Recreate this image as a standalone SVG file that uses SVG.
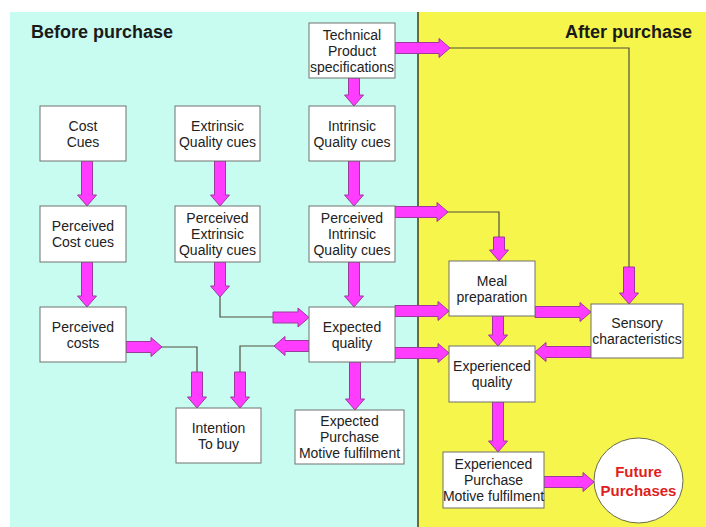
<svg xmlns="http://www.w3.org/2000/svg" width="706" height="527" viewBox="0 0 706 527">
  <style>
    .box { fill: #ffffff; stroke: #707070; stroke-width: 1; }
    .lbl { font-family: "Liberation Sans", Arial, sans-serif; font-size: 14px; fill: #222222; text-anchor: middle; }
    .title { font-family: "Liberation Sans", Arial, sans-serif; font-size: 18px; font-weight: bold; fill: #1a1a1a; }
    .blk { fill: #ff3cff; stroke: #9a3a9a; stroke-width: 1; stroke-linejoin: miter; }
    .wire { fill: none; stroke: #505040; stroke-width: 1.2; }
    .future { font-family: "Liberation Sans", Arial, sans-serif; font-size: 15px; font-weight: bold; fill: #e01e1e; text-anchor: middle; }
  </style>

  <!-- background panels -->
  <rect x="0" y="0" width="706" height="527" fill="#ffffff"/>
  <rect x="10" y="12" width="408" height="515" fill="#c8fcf0"/>
  <rect x="418" y="12" width="288" height="515" fill="#f5f54b"/>
  <line x1="418" y1="12" x2="418" y2="527" stroke="#3c3c28" stroke-width="1.5"/>

  <text class="title" x="31" y="38">Before purchase</text>
  <text class="title" x="692" y="38" text-anchor="end">After purchase</text>

  <!-- connectors: block arrows and thin routing lines -->
  <g id="connectors">
    <!-- thin routing lines -->
    <path class="wire" d="M448 48 H629 V268"/>
    <path class="wire" d="M220 296 V317 H274"/>
    <path class="wire" d="M446 212 H499 V238"/>
    <path class="wire" d="M161 347 H197 V373"/>
    <path class="wire" d="M275 346 H240 V373"/>

    <!-- Technical -> Intrinsic -->
    <path class="blk" d="M348.5 78 V95 H344.5 L354 106 L363.5 95 H359.5 V78 Z"/>
    <!-- Technical -> right -->
    <path class="blk" d="M395 42.5 H439 V38.5 L450 48 L439 57.5 V53.5 H395 Z"/>
    <!-- down into Sensory -->
    <path class="blk" d="M623.5 267 V293 H619.5 L629 304 L638.5 293 H634.5 V267 Z"/>
    <!-- Cost cues -> Perceived cost cues -->
    <path class="blk" d="M81.5 161 V195 H77.5 L87 206 L96.5 195 H92.5 V161 Z"/>
    <!-- Extrinsic -> Perceived extrinsic -->
    <path class="blk" d="M214.5 161 V195 H210.5 L220 206 L229.5 195 H225.5 V161 Z"/>
    <!-- Intrinsic -> Perceived intrinsic -->
    <path class="blk" d="M348.5 161 V195 H344.5 L354 206 L363.5 195 H359.5 V161 Z"/>
    <!-- Perceived cost cues -> Perceived costs -->
    <path class="blk" d="M81.5 262 V296 H77.5 L87 307 L96.5 296 H92.5 V262 Z"/>
    <!-- Perceived extrinsic down -->
    <path class="blk" d="M214.5 262 V286 H210.5 L220 297 L229.5 286 H225.5 V262 Z"/>
    <!-- into Expected quality from left -->
    <path class="blk" d="M273 312 H298 V308 L309 317.5 L298 327 V323 H273 Z"/>
    <!-- Perceived intrinsic -> Expected quality -->
    <path class="blk" d="M348.5 262 V296 H344.5 L354 307 L363.5 296 H359.5 V262 Z"/>
    <!-- Perceived intrinsic -> right -->
    <path class="blk" d="M395 206.5 H437 V202.5 L448 212 L437 221.5 V217.5 H395 Z"/>
    <!-- down into Meal preparation -->
    <path class="blk" d="M493.5 237 V250 H489.5 L499 261 L508.5 250 H504.5 V237 Z"/>
    <!-- Perceived costs -> right -->
    <path class="blk" d="M126 341.5 H151 V337.5 L162 347 L151 356.5 V352.5 H126 Z"/>
    <!-- down into Intention (left) -->
    <path class="blk" d="M191.5 372 V397 H187.5 L197 408 L206.5 397 H202.5 V372 Z"/>
    <!-- Expected quality -> left -->
    <path class="blk" d="M309 340.5 H285 V336.5 L274 346 L285 355.5 V351.5 H309 Z"/>
    <!-- down into Intention (right) -->
    <path class="blk" d="M234.5 372 V397 H230.5 L240 408 L249.5 397 H245.5 V372 Z"/>
    <!-- Expected quality -> Expected purchase motive fulfilment -->
    <path class="blk" d="M349.5 362 V399 H345.5 L355 410 L364.5 399 H360.5 V362 Z"/>
    <!-- Expected quality -> Meal preparation -->
    <path class="blk" d="M395 305.5 H438 V301.5 L449 311 L438 320.5 V316.5 H395 Z"/>
    <!-- Expected quality -> Experienced quality -->
    <path class="blk" d="M395 347.5 H438 V343.5 L449 353 L438 362.5 V358.5 H395 Z"/>
    <!-- Meal preparation -> Sensory -->
    <path class="blk" d="M535 306.5 H580 V302.5 L591 312 L580 321.5 V317.5 H535 Z"/>
    <!-- Meal preparation -> Experienced quality -->
    <path class="blk" d="M492.5 316 V335 H488.5 L498 346 L507.5 335 H503.5 V316 Z"/>
    <!-- Sensory -> Experienced quality -->
    <path class="blk" d="M591 346.5 H546 V342.5 L535 352 L546 361.5 V357.5 H591 Z"/>
    <!-- Experienced quality -> Experienced purchase motive fulfilment -->
    <path class="blk" d="M492.5 402 V441 H488.5 L498 452 L507.5 441 H503.5 V402 Z"/>
    <!-- Experienced purchase motive fulfilment -> Future purchases -->
    <path class="blk" d="M544 476.5 H583 V472.5 L594 482 L583 491.5 V487.5 H544 Z"/>
  </g>

  <!-- nodes -->
  <g id="technical">
    <rect class="box" x="309" y="23" width="86" height="55"/>
    <text class="lbl" x="352" y="40">Technical</text>
    <text class="lbl" x="352" y="56">Product</text>
    <text class="lbl" x="352" y="72">specifications</text>
  </g>
  <g id="cost-cues">
    <rect class="box" x="40" y="106" width="86" height="55"/>
    <text class="lbl" x="83" y="131">Cost</text>
    <text class="lbl" x="83" y="147">Cues</text>
  </g>
  <g id="extrinsic-cues">
    <rect class="box" x="175" y="106" width="85" height="55"/>
    <text class="lbl" x="217.5" y="131">Extrinsic</text>
    <text class="lbl" x="217.5" y="147">Quality cues</text>
  </g>
  <g id="intrinsic-cues">
    <rect class="box" x="309" y="106" width="86" height="55"/>
    <text class="lbl" x="352" y="131">Intrinsic</text>
    <text class="lbl" x="352" y="147">Quality cues</text>
  </g>
  <g id="perceived-cost-cues">
    <rect class="box" x="40" y="206" width="86" height="56"/>
    <text class="lbl" x="83" y="231">Perceived</text>
    <text class="lbl" x="83" y="247">Cost cues</text>
  </g>
  <g id="perceived-extrinsic">
    <rect class="box" x="175" y="206" width="85" height="56"/>
    <text class="lbl" x="217.5" y="223">Perceived</text>
    <text class="lbl" x="217.5" y="239">Extrinsic</text>
    <text class="lbl" x="217.5" y="255">Quality cues</text>
  </g>
  <g id="perceived-intrinsic">
    <rect class="box" x="309" y="206" width="86" height="56"/>
    <text class="lbl" x="352" y="223">Perceived</text>
    <text class="lbl" x="352" y="239">Intrinsic</text>
    <text class="lbl" x="352" y="255">Quality cues</text>
  </g>
  <g id="perceived-costs">
    <rect class="box" x="40" y="307" width="86" height="55"/>
    <text class="lbl" x="83" y="332">Perceived</text>
    <text class="lbl" x="83" y="348">costs</text>
  </g>
  <g id="expected-quality">
    <rect class="box" x="309" y="307" width="86" height="55"/>
    <text class="lbl" x="352" y="332">Expected</text>
    <text class="lbl" x="352" y="348">quality</text>
  </g>
  <g id="intention">
    <rect class="box" x="176" y="408" width="85" height="55"/>
    <text class="lbl" x="218.5" y="433">Intention</text>
    <text class="lbl" x="218.5" y="449">To buy</text>
  </g>
  <g id="expected-motive">
    <rect class="box" x="295" y="410" width="109" height="54"/>
    <text class="lbl" x="349.5" y="426">Expected</text>
    <text class="lbl" x="349.5" y="442">Purchase</text>
    <text class="lbl" x="349.5" y="458">Motive fulfilment</text>
  </g>
  <g id="meal-preparation">
    <rect class="box" x="449" y="261" width="86" height="55"/>
    <text class="lbl" x="492" y="286">Meal</text>
    <text class="lbl" x="492" y="302">preparation</text>
  </g>
  <g id="sensory">
    <rect class="box" x="591" y="304" width="92" height="54"/>
    <text class="lbl" x="637" y="328">Sensory</text>
    <text class="lbl" x="637" y="344">characteristics</text>
  </g>
  <g id="experienced-quality">
    <rect class="box" x="449" y="346" width="86" height="56"/>
    <text class="lbl" x="492" y="371">Experienced</text>
    <text class="lbl" x="492" y="387">quality</text>
  </g>
  <g id="experienced-motive">
    <rect class="box" x="443" y="452" width="101" height="56"/>
    <text class="lbl" x="493.5" y="469">Experienced</text>
    <text class="lbl" x="493.5" y="485">Purchase</text>
    <text class="lbl" x="493.5" y="501">Motive fulfilment</text>
  </g>
  <g id="future-purchases">
    <ellipse cx="638.5" cy="480.5" rx="44.5" ry="42.5" fill="#ffffff" stroke="#6a6a50" stroke-width="1"/>
    <text class="future" x="638.5" y="477">Future</text>
    <text class="future" x="638.5" y="496">Purchases</text>
  </g>
</svg>
